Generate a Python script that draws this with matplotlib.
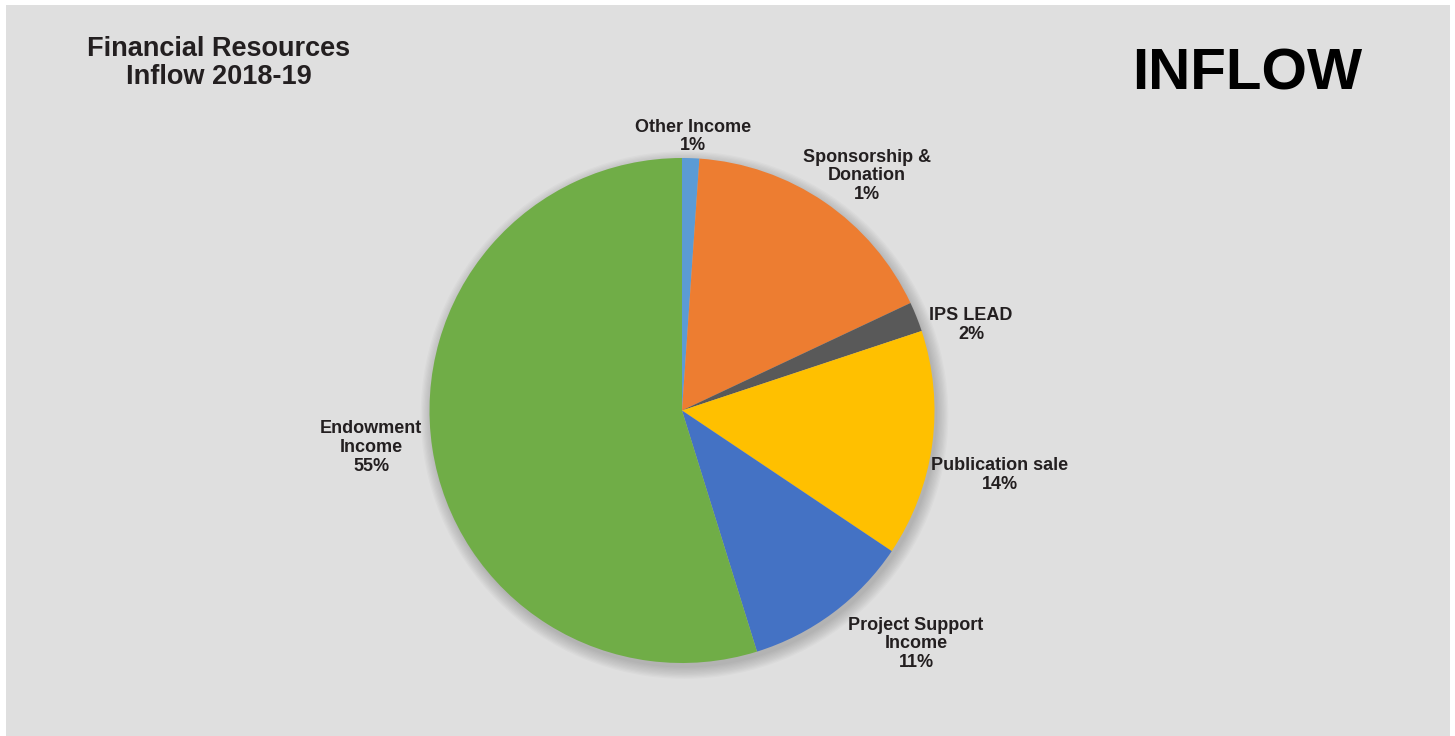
"""
Pie chart of the 2018-19 financial resources inflow.
"""
import os
import matplotlib
matplotlib.use("Agg")
import matplotlib.pyplot as plt
from matplotlib import font_manager as fm
from matplotlib.patches import Circle, Rectangle

W, H = 1455, 736

# slice shares (clockwise from 12 o'clock)
categories = ["Other Income", "Sponsorship &\nDonation", "IPS LEAD",
              "Publication sale", "Project Support\nIncome", "Endowment\nIncome"]
values = [1.1, 16.9, 1.9, 14.5, 10.8, 54.8]
pct_labels = ["1%", "1%", "2%", "14%", "11%", "55%"]
colors = ["#5B9BD5", "#ED7D31", "#595959", "#FFC000", "#4472C4", "#70AD47"]

# label placement in pixels: centre x and baseline of the first line
label_pos = [(693, 131.5), (867, 161.5), (971, 320), (1000, 470), (916, 629.5), (371, 433)]
LINE_STEP = 18.8


def bold_font(narrow: bool) -> fm.FontProperties:
    """Pick a Liberation Sans (Narrow) bold file directly."""
    for f in fm.fontManager.ttflist:
        base = os.path.basename(f.fname).lower()
        if not base.startswith("liberationsans"):
            continue
        if "bold" not in base or "italic" in base:
            continue
        if ("narrow" in base) == narrow:
            return fm.FontProperties(fname=f.fname)
    return fm.FontProperties(family="DejaVu Sans", weight="bold")


label_font = bold_font(False)

fig = plt.figure(figsize=(W / 100, H / 100), dpi=100)
fig.patch.set_facecolor("white")
fig.patches.append(Rectangle((6 / W, 0), (1450 - 6) / W, (736 - 5) / H,
                             transform=fig.transFigure, facecolor="#DFDFDF",
                             edgecolor="none", zorder=-5))

cx, cy, r = 682, 410.5, 252.5
ax = fig.add_axes([(cx - r) / W, (H - cy - r) / H, 2 * r / W, 2 * r / H])
ax.set_facecolor("none")
ax.set_zorder(2)

# soft shadow under the pie
for k in range(10):
    ax.add_patch(Circle((0.01, -0.018), 1.0 + 0.005 * k, facecolor="#000000",
                        alpha=0.018, edgecolor="none", zorder=0, clip_on=False))

wedges, _ = ax.pie(values, colors=colors, startangle=90, counterclock=False,
                   radius=1.0, wedgeprops=dict(linewidth=0, zorder=2), frame=False)
ax.set_xlim(-1, 1)
ax.set_ylim(-1, 1)
ax.set_aspect("equal")
ax.axis("off")


def put_lines(lines, x, y0, step, **kw):
    """Write centred lines, y0 is the first baseline in pixels from the top."""
    for i, line in enumerate(lines):
        fig.text(x / W, 1 - (y0 + i * step) / H, line, ha="center",
                 va="baseline", **kw)


for name, pct, (px, py) in zip(categories, pct_labels, label_pos):
    put_lines(name.split("\n") + [pct], px, py, LINE_STEP,
              fontproperties=label_font, fontsize=13, color="#231F20", zorder=3)

put_lines(["Financial Resources", "Inflow 2018-19"], 219, 56.5, 27.5,
          fontproperties=label_font, fontsize=19.5, color="#231F20")
put_lines(["INFLOW"], 1247, 90, 0, fontproperties=label_font, fontsize=42,
          color="black")

fig.savefig("out.png", dpi=100)
